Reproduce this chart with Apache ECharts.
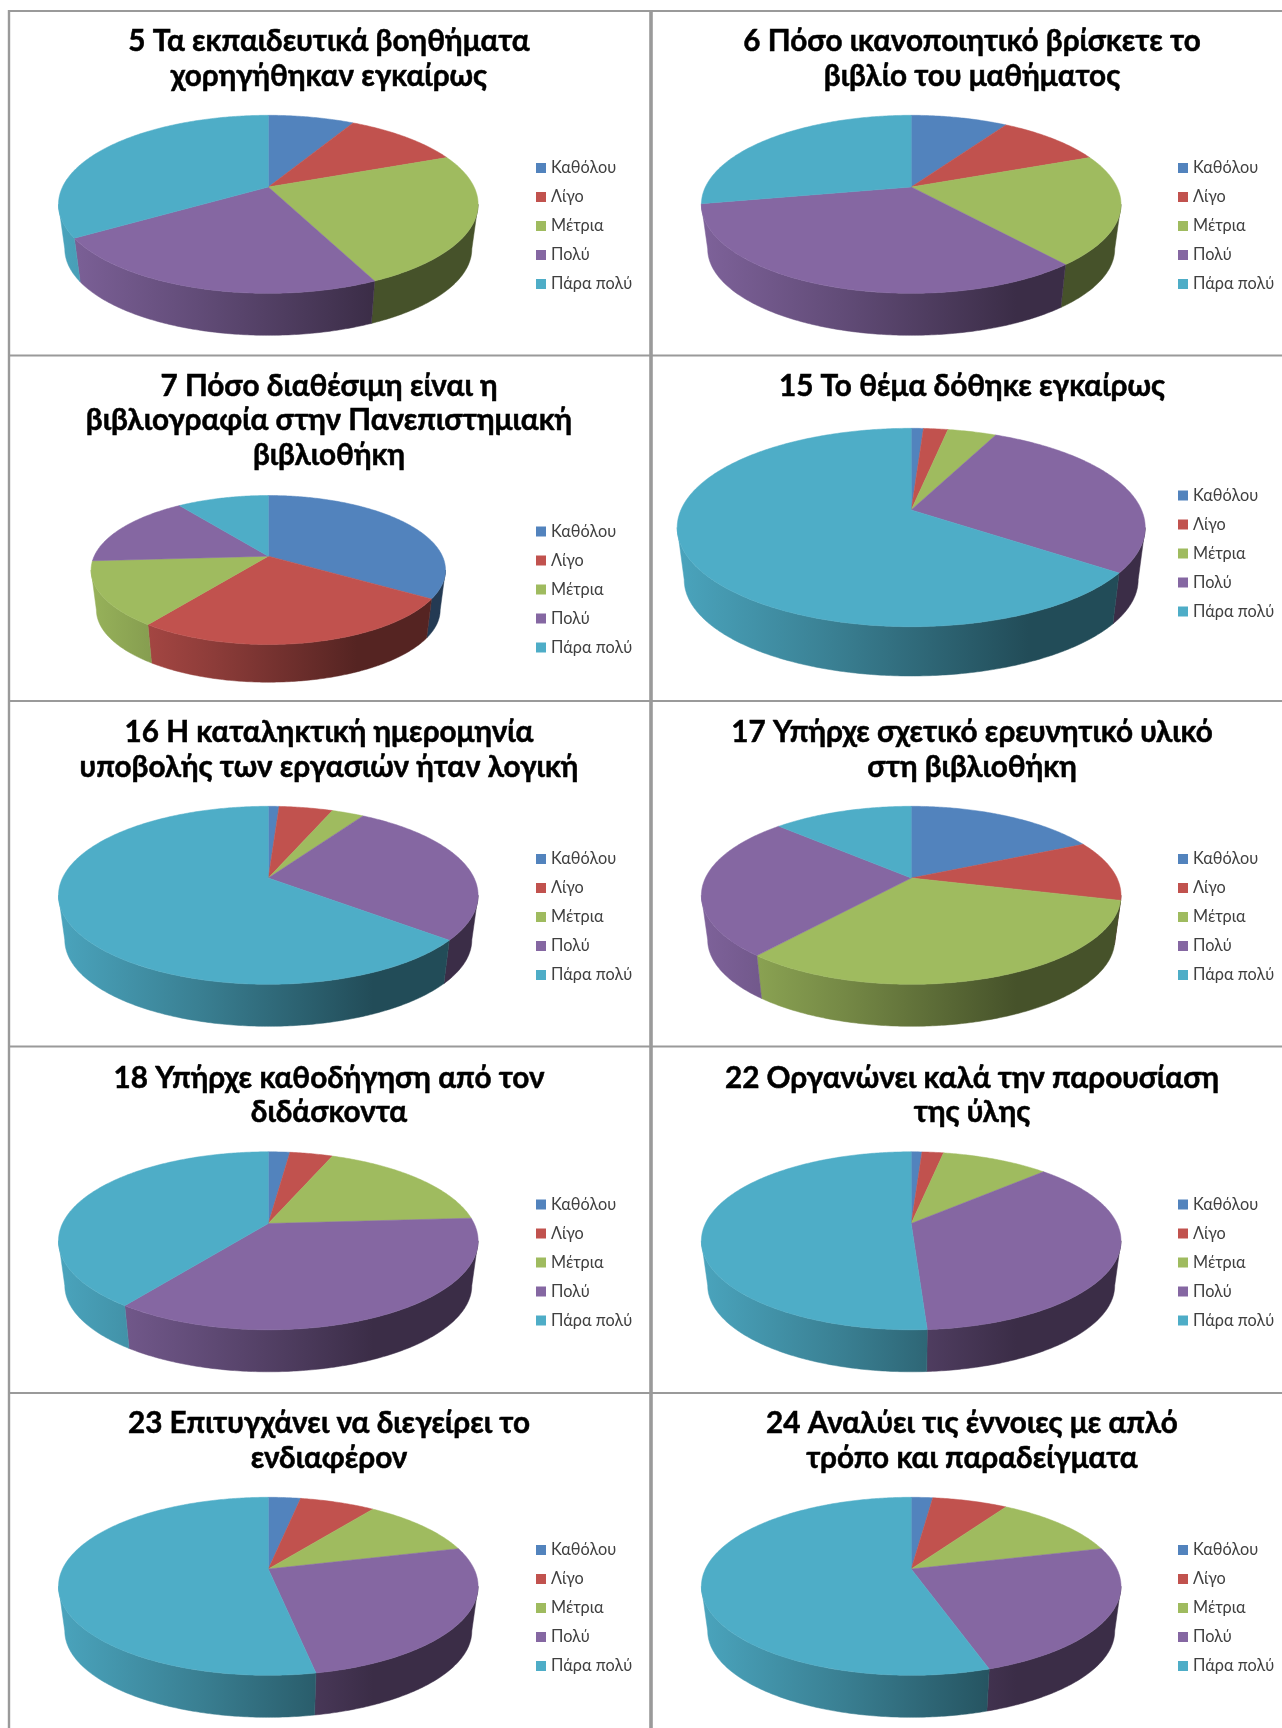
<!DOCTYPE html>
<html><head><meta charset="utf-8">
<style>html,body{margin:0;padding:0;background:#fff}#c{width:1282px;height:1728px;filter:blur(.45px)}</style>
<script src="https://cdn.jsdelivr.net/npm/echarts@6/dist/echarts.min.js"></script>
</head><body><div id="c"></div>
<script>
const categories = ['Καθόλου','Λίγο','Μέτρια','Πολύ','Πάρα πολύ'];
const titles = [
 '5 Τα εκπαιδευτικά βοηθήματα\nχορηγήθηκαν εγκαίρως',
 '6 Πόσο ικανοποιητικό βρίσκετε το\nβιβλίο του μαθήματος',
 '7 Πόσο διαθέσιμη είναι η\nβιβλιογραφία στην Πανεπιστημιακή\nβιβλιοθήκη',
 '15 Το θέμα δόθηκε εγκαίρως',
 '16 Η καταληκτική ημερομηνία\nυποβολής των εργασιών ήταν λογική',
 '17 Υπήρχε σχετικό ερευνητικό υλικό\nστη βιβλιοθήκη',
 '18 Υπήρχε καθοδήγηση από τον\nδιδάσκοντα',
 '22 Οργανώνει καλά την παρουσίαση\nτης ύλης',
 '23 Επιτυγχάνει να διεγείρει το\nενδιαφέρον',
 '24 Αναλύει τις έννοιες με απλό\nτρόπο και παραδείγματα'
];
const q5  = [8,11,24,23,34];
const q6  = [9,10,20,33,28];
const q7  = [34,26,14,16,10];
const q15 = [1,2,4,28,65];
const q16 = [1,5,3,27,64];
const q17 = [18,11,32,26,13];
const q18 = [2,4,18,36,40];
const q22 = [1,2,10,36,51];
const q23 = [3,7,11,26,53];
const q24 = [2,7,12,24,55];
const answers = [q5,q6,q7,q15,q16,q17,q18,q22,q23,q24];

const palette = ['#5283bd','#c1524e','#9fbb5f','#8567a2','#4eadc7'];
const lineYs = [11,355.5,701,1046.5,1393];
const rowTops = [11,355.5,702,1047.5,1393];
const colHub = [268.3,911.2], colTitle=[329,972], colLegend=[536,1178];
const STD = {dy:176, rx:209.8, up:71.7, down:106.3, depth:42, legendY:157};
const SPECIAL = {
 2:{dy:200.7, rx:177.2, up:60.7, down:88.3, depth:37.7, legendY:176},
 3:{dy:154.5, rx:234, up:81.7, down:116.7, depth:49.3, legendY:140}
};
function geom(i){
  const g = Object.assign({}, SPECIAL[i]||STD);
  g.col = i%2; g.top = rowTops[Math.floor(i/2)];
  g.hx = colHub[g.col]; g.hy = g.top+g.dy;
  g.k=(g.down-g.up)/(g.down+g.up); g.B=g.up*(1+g.k); g.A=g.rx*Math.sqrt(1-g.k*g.k);
  g.cy=g.hy+(g.down-g.up)/2;
  return g;
}
const TAU=Math.PI*2, SHRINK=0.97;
function topPt(g,th){const u=Math.sin(th),v=Math.cos(th),w=1+g.k*v;return [g.hx+g.A*u/w,g.hy-g.B*v/w];}
function botPt(g,th){
  const p=topPt(g,th), ry=(g.up+g.down)/2, off=g.depth+ry*(1-SHRINK);
  return [g.hx+(p[0]-g.hx)*SHRINK, g.cy+(p[1]-g.cy)*SHRINK+off];
}
function arc(fn,g,a,b){const n=Math.max(2,Math.ceil((b-a)/0.012)),r=[];for(let i=0;i<=n;i++)r.push(fn(g,a+(b-a)*i/n));return r;}
function shade(hex,f){const n=parseInt(hex.slice(1),16);return 'rgb('+[n>>16,(n>>8)&255,n&255].map(c=>Math.round(c*f)).join(',')+')';}

function makeRender(color){
  return function(params,api){
    const g=geom(api.value(0)), a=api.value(1)/100*TAU, b=(api.value(1)+api.value(2))/100*TAU;
    const children=[];
    const d=g.cy-g.hy, v0=-d/(g.B+d*g.k), th0=Math.acos(v0);
    const wa=Math.max(a,th0), wb=Math.min(b,TAU-th0);
    if(wb>wa){
      const pts=arc(topPt,g,wa,wb).concat(arc(botPt,g,wa,wb).reverse());
      const fill={type:'linear',x:g.hx-g.rx,y:0,x2:g.hx+g.rx,y2:0,global:true,colorStops:[
        {offset:0,color:shade(color,.95)},{offset:.33,color:shade(color,.74)},
        {offset:.75,color:shade(color,.44)},{offset:1,color:shade(color,.44)}]};
      children.push({type:'polygon',z2:1,shape:{points:pts},style:{fill:fill,stroke:fill,lineWidth:.5}});
    }
    children.push({type:'polygon',z2:5,shape:{points:[[g.hx,g.hy]].concat(arc(topPt,g,a,b))},
      style:{fill:color,stroke:color,lineWidth:.5}});
    return {type:'group',children:children};
  };
}

const series=categories.map((name,c)=>({
  type:'custom',name:name,coordinateSystem:'none',silent:true,
  itemStyle:{color:palette[c]},
  renderItem:makeRender(palette[c]),
  data:answers.map((vals,i)=>[i,vals.slice(0,c).reduce((s,x)=>s+x,0),vals[c]])
}));

const FONT='Lato, "Noto Sans", sans-serif';
const title=titles.map((t,i)=>{const g=geom(i);return {
  text:t,left:colTitle[g.col],top:g.top+13.5,textAlign:'center',padding:0,
  textStyle:{fontFamily:FONT,fontWeight:'bold',fontSize:29.7,lineHeight:34.5,color:'#000',textBorderColor:'#000',textBorderWidth:.5}
};});
const legend=titles.map((t,i)=>{const g=geom(i);return {
  data:categories,orient:'vertical',left:colLegend[g.col],top:g.top+g.legendY-8,padding:0,
  icon:'rect',itemWidth:10,itemHeight:10,itemGap:13,selectedMode:false,
  textStyle:{fontFamily:FONT,fontSize:16.3,lineHeight:16,color:'#404040'}
};});
const line=(x1,y1,x2,y2,w)=>({type:'line',silent:true,z:-1,shape:{x1,y1,x2,y2},style:{stroke:'#9a9a9a',lineWidth:w}});
const graphic=lineYs.map(y=>line(8,y,1282,y,2)).concat([line(9,10,9,1728,2.4),line(651,10,651,1728,3.6)]);

const chart=echarts.init(document.getElementById('c'),null,{renderer:'canvas'});
chart.setOption({animation:false,backgroundColor:'#fff',title,legend,graphic,series});
</script></body></html>
